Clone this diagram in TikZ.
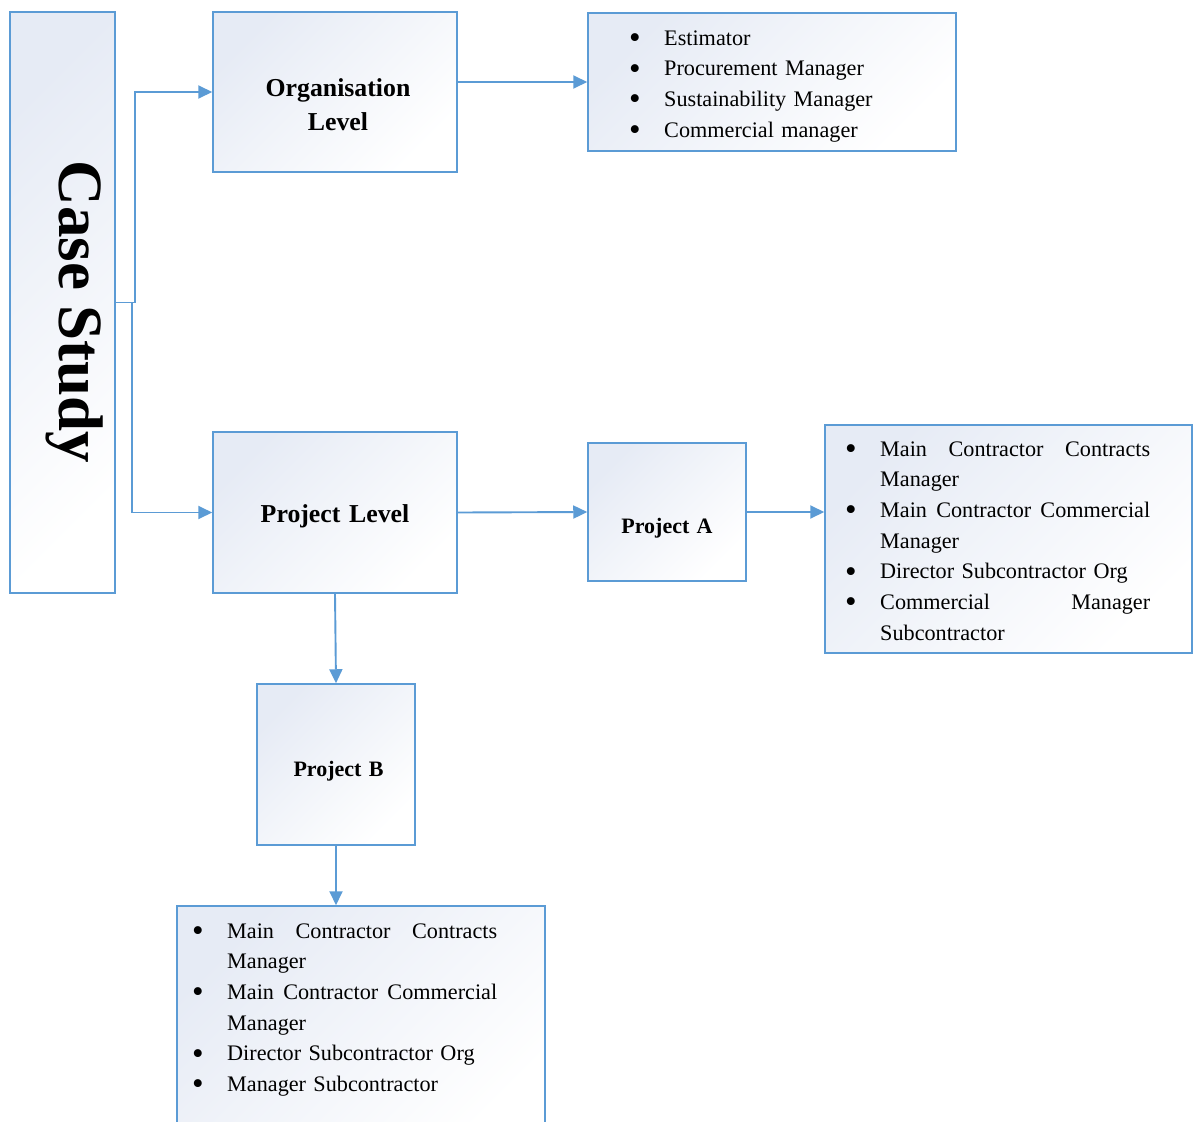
\documentclass[tikz,border=0pt]{standalone}
\usepackage{fontspec}
\setmainfont{Liberation Serif}
\usepackage{tikz}
\usetikzlibrary{arrows.meta}
\definecolor{edge}{HTML}{5B9BD5}
\definecolor{tint}{HTML}{E6EBF5}
% bullet and hanging indent for the role lists
\newcommand{\lbul}{\makebox[32pt][l]{\hspace*{-3pt}\raisebox{-3.4pt}{\fontsize{33}{33}\selectfont\textbullet}}}
\newcommand{\lind}{\hspace*{32pt}}
% a justified first line of a wrapped item
\newcommand{\jline}[3]{\makebox[270pt][l]{#1\hfill #2\hfill #3}}

\begin{document}
\begin{tikzpicture}[x=1pt, y=-1pt, >={Triangle[length=14pt,width=13pt]},
  box/.style={draw=edge, line width=1.5pt, top color=tint, bottom color=white, shading angle=45, inner sep=0pt},
  title/.style={font=\bfseries\fontsize{25.8}{34}\selectfont, inner sep=0pt, anchor=base, align=center, text width=240pt},
  subtitle/.style={title, font=\bfseries\fontsize{22}{28}\selectfont, text width=150pt},
  roles/.style={font=\fontsize{22.2}{30.7}\selectfont, inner sep=0pt, anchor=base west, align=left, text width=340pt},
  conn/.style={->, draw=edge, line width=1.9pt}]
\useasboundingbox (0,0) rectangle (1197,1122);
\clip (0,0) rectangle (1197,1122);
% ---------------- case study column
\node[box, minimum width=105pt, minimum height=581pt] (casestudy) at (62.5,302.5) {};
\node[font=\bfseries\fontsize{63}{70}\selectfont, rotate=-90, anchor=base, inner sep=0pt] (casestudytxt) at (59,312) {Case Study};
% ---------------- organisation level
\node[box, minimum width=244pt, minimum height=160pt] (orglevel) at (335,92) {};
\node[title] (orgleveltxt) at (338,96) {Organisation\\Level};
\node[box, minimum width=368pt, minimum height=138pt] (orglist) at (772,82) {};
\node[roles] (orglisttxt) at (632,45) {\lbul Estimator\\
  \lbul Procurement Manager\\
  \lbul Sustainability Manager\\
  \lbul Commercial manager};
% ---------------- project level
\node[box, minimum width=244pt, minimum height=161pt] (projlevel) at (335,512.5) {};
\node[title] (projleveltxt) at (335,522) {Project Level};
\node[box, minimum width=158pt, minimum height=138pt] (proja) at (667,512) {};
\node[subtitle] (projatxt) at (667,533) {Project A};
\node[box, minimum width=367pt, minimum height=228pt] (alist) at (1008.5,539) {};
\node[roles] (alisttxt) at (848,456) {\lbul\jline{Main}{Contractor}{Contracts}\\
  \lind Manager\\
  \lbul\jline{Main}{Contractor}{Commercial}\\
  \lind Manager\\
  \lbul Director Subcontractor Org\\
  \lbul\jline{Commercial}{}{Manager}\\
  \lind Subcontractor};
\node[box, minimum width=158pt, minimum height=161pt] (projb) at (336,764.5) {};
\node[subtitle] (projbtxt) at (338.5,776) {Project B};
\node[box, minimum width=368pt, minimum height=240pt] (blist) at (361,1026) {};
\node[roles] (blisttxt) at (195,938) {\lbul\jline{Main}{Contractor}{Contracts}\\
  \lind Manager\\
  \lbul\jline{Main}{Contractor}{Commercial}\\
  \lind Manager\\
  \lbul Director Subcontractor Org\\
  \lbul Manager Subcontractor};
% ---------------- connectors
\draw[conn] (casestudy.east) -- ++(19,0) |- (orglevel.west);
\draw[conn] (casestudy.east) -- ++(16,0) |- (projlevel.west);
\draw[conn] (orglevel.east |- orglist.west) -- (orglist.west);
\draw[conn] (projlevel.east) -- (proja.west);
\draw[conn] (proja.east) -- (proja.east -| alist.west);
\draw[conn] (projlevel.south) -- (projb.north);
\draw[conn] (projb.south) -- (projb.south |- blist.north);
\end{tikzpicture}
\end{document}
